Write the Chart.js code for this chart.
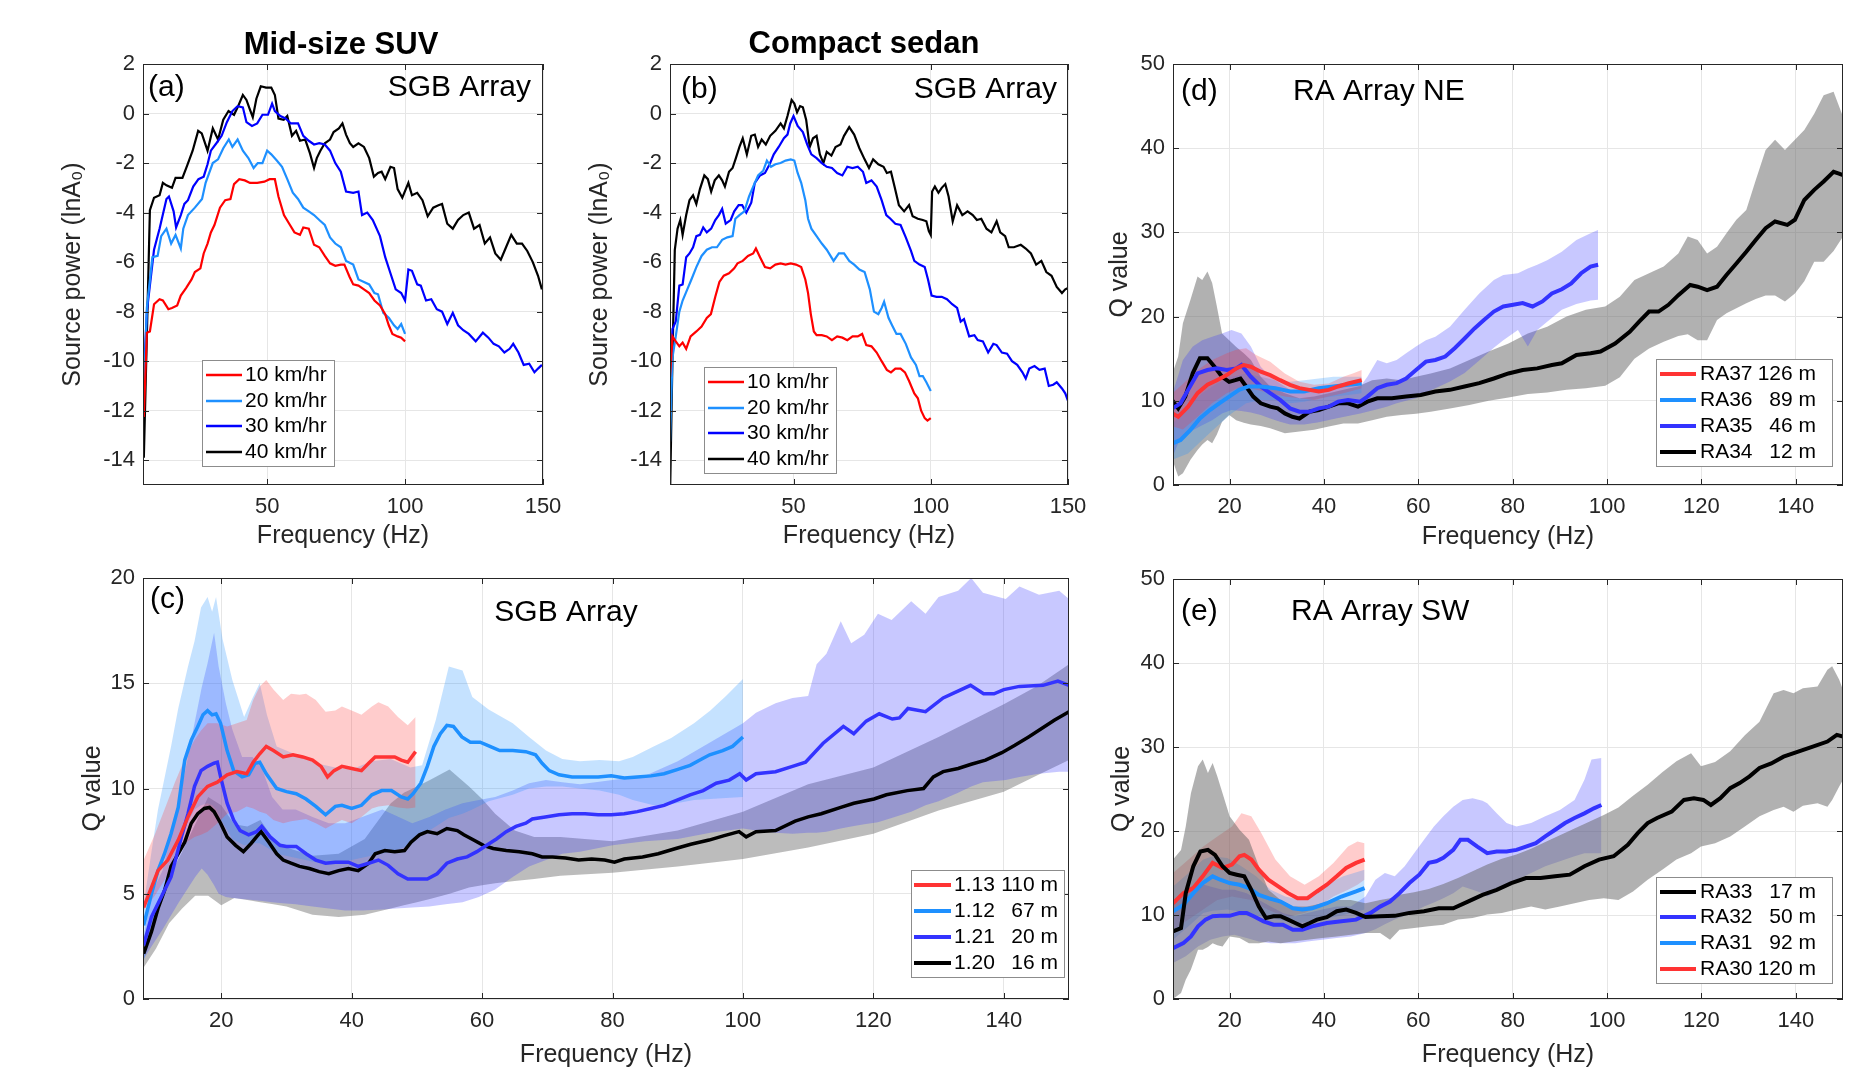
<!DOCTYPE html>
<html>
<head>
<meta charset="utf-8">
<script src="https://cdn.jsdelivr.net/npm/chart.js@4.4.1/dist/chart.umd.min.js"></script>
<style>
body{margin:0;background:#fff;width:1873px;height:1073px;position:relative;overflow:hidden}
canvas{position:absolute}
</style>
</head>
<body>
<canvas id="pa"></canvas><canvas id="pb"></canvas><canvas id="pc"></canvas><canvas id="pd"></canvas><canvas id="pe"></canvas>
<script>
// ---- data: [frequency Hz, value] ----
const a10 = [[5.3,-12.25],[6.4,-8.85],[7.5,-8.8],[9,-7.7],[11,-7.5],[12.2,-7.55],[14.2,-7.9],[15.5,-7.85],[17.4,-7.75],[18.7,-7.35],[20.6,-7.05],[22.6,-6.7],[23.8,-6.4],[25.8,-6.25],[27,-5.65],[28.4,-5.25],[29.6,-4.8],[30.9,-4.5],[32.9,-3.8],[34.8,-3.5],[36.7,-3.45],[38,-2.85],[39.9,-2.65],[41.9,-2.7],[43.8,-2.8],[46.4,-2.8],[49,-2.75],[50.9,-2.65],[52.8,-2.65],[54.1,-3.35],[56.1,-4.1],[58,-4.45],[59.9,-4.8],[61.9,-4.9],[63.1,-4.6],[65.1,-4.65],[67,-5.3],[68.9,-5.4],[70.9,-5.75],[72.8,-6.05],[74.7,-6.15],[76.7,-6.1],[78,-6.1],[79.9,-6.6],[81.2,-6.9],[83.1,-6.95],[85.1,-7.1],[87,-7.25],[88.9,-7.55],[90.9,-7.75],[92.8,-8.1],[94.1,-8.55],[95.4,-8.9],[97.3,-9.0],[98.6,-9.05],[100,-9.2]];
const a20 = [[5.3,-11.3],[6.4,-7.85],[8.4,-5.8],[10.3,-5.75],[11.6,-4.95],[13.5,-4.65],[15.2,-5.25],[16.8,-4.9],[18.7,-5.45],[19.6,-4.65],[21.3,-4.1],[23.8,-3.8],[26.4,-3.45],[27.7,-2.8],[29,-2.4],[30.3,-2.0],[32.2,-1.85],[34.1,-1.4],[36.1,-1.05],[37.4,-1.35],[39.3,-1.05],[41.2,-1.5],[43.2,-1.8],[45.1,-2.2],[46.6,-2.0],[48.3,-2.0],[50,-1.5],[51.5,-1.65],[53.5,-1.9],[55.4,-2.15],[57.3,-2.65],[59.3,-3.2],[61.2,-3.45],[63.1,-3.8],[65.1,-3.95],[67,-4.1],[68.9,-4.3],[70.9,-4.5],[72.8,-5.0],[74.7,-5.25],[76.7,-5.4],[78.6,-5.95],[81.2,-6.1],[83.1,-6.7],[85.1,-6.8],[87,-6.9],[88.9,-7.25],[90.2,-7.3],[92.1,-8.05],[94.1,-8.25],[96,-8.55],[97.3,-8.7],[98.6,-8.5],[100,-8.9]];
const a30 = [[5.3,-10.6],[6.4,-8.0],[9,-5.5],[11,-4.65],[13.5,-3.45],[14.4,-3.35],[16.1,-3.95],[17,-4.6],[18.7,-4.1],[20,-3.65],[21.3,-3.5],[23.2,-2.95],[25.1,-2.65],[27,-2.55],[28.4,-2.05],[29.6,-1.5],[31.6,-1.2],[33.5,-0.9],[35.4,-0.35],[37.4,0.1],[39.3,0.3],[41.2,0.25],[42.5,-0.35],[44.5,-0.5],[46.4,-0.4],[48.3,-0.05],[50.3,-0.05],[51.8,0.4],[52.8,0.1],[54.8,-0.1],[56.7,-0.2],[58.6,-0.4],[61.2,-0.4],[63.1,-0.9],[65.1,-1.1],[67,-1.25],[68.9,-1.2],[70.9,-1.25],[72.8,-1.5],[74.7,-2.0],[76.7,-2.35],[78.6,-3.15],[81.2,-3.2],[83.1,-3.15],[84.4,-4.1],[86.3,-4.0],[88.3,-4.3],[90.9,-4.95],[92.8,-5.8],[94.7,-6.45],[96.6,-7.1],[98.6,-7.25],[100,-7.55],[101.2,-6.3],[102.5,-6.35],[104.4,-6.9],[105.7,-6.95],[107.6,-7.55],[109.5,-7.5],[111.5,-7.9],[113.4,-8.0],[115.3,-8.5],[117.3,-8.05],[119.2,-8.55],[121.1,-8.75],[123.1,-8.9],[125.6,-9.2],[128.2,-8.85],[130.2,-9.05],[132.1,-9.3],[134,-9.4],[136,-9.65],[137.9,-9.5],[139.2,-9.3],[141.1,-9.65],[143,-10.15],[145,-10.1],[146.9,-10.45],[148.2,-10.3],[149.6,-10.15]];
const a40 = [[5.3,-13.9],[6.5,-8.5],[7.5,-3.9],[9,-3.4],[11,-3.3],[12.2,-2.8],[13.5,-2.9],[15.5,-3.0],[16.8,-2.6],[19.3,-2.6],[21,-2.1],[23,-1.5],[25,-0.7],[26.3,-0.8],[28.4,-1.5],[30.3,-0.6],[32.2,-1.05],[34.1,-0.25],[36,0.1],[38,-0.05],[39.3,0.25],[41.2,0.75],[42.5,0.55],[43.8,0.15],[44.8,-0.15],[46.1,0.6],[47.7,1.1],[49.6,1.05],[51.5,1.05],[52.8,0.75],[54.1,-0.2],[56,-0.25],[57.3,-0.1],[59,-0.9],[60.5,-0.7],[61.9,-1.1],[63.8,-1.05],[65.5,-1.6],[67,-2.2],[68,-1.8],[69.3,-1.5],[70.9,-1.2],[72.8,-1.05],[74.1,-0.75],[76,-0.6],[77.3,-0.4],[78.6,-0.85],[80,-1.2],[81.2,-1.35],[83.1,-1.2],[85.1,-1.35],[87,-1.8],[88.7,-2.55],[90.2,-2.4],[91.5,-2.35],[92.8,-2.65],[94.7,-2.15],[96,-2.2],[97.3,-3.05],[99,-3.4],[101.2,-2.8],[102.5,-3.3],[104.4,-3.2],[106.3,-3.5],[108.2,-4.15],[110.2,-3.8],[112.1,-3.7],[113.4,-3.65],[115.3,-4.45],[117.3,-4.65],[119.2,-4.3],[121.1,-4.1],[123.1,-4.0],[125,-4.65],[127,-4.5],[128.9,-5.25],[130.8,-5.0],[132.7,-5.65],[134.7,-5.9],[136.6,-5.4],[138.5,-4.9],[140.5,-5.25],[142.4,-5.25],[144.3,-5.55],[146.3,-6.0],[148.2,-6.55],[149.6,-7.1]];

const b10 = [[5,-10.65],[5.9,-9.0],[7.1,-9.2],[8.4,-9.4],[9.6,-9.25],[10.9,-9.5],[12.5,-9.0],[14.6,-8.8],[16.5,-8.6],[18.4,-8.25],[19.9,-8.1],[21.5,-7.4],[23,-6.8],[24.6,-6.55],[26.5,-6.45],[28.4,-6.25],[29.6,-6.05],[31.5,-5.95],[33.4,-5.75],[35.3,-5.65],[36.3,-5.45],[37.8,-5.8],[39.6,-6.2],[41.5,-6.25],[43.4,-6.1],[45.3,-6.05],[47.1,-6.1],[49,-6.05],[50.9,-6.1],[52.8,-6.2],[54.3,-6.7],[55.3,-7.25],[56.3,-8.1],[57.4,-8.8],[58.4,-8.95],[60.3,-8.95],[62.1,-9.0],[64,-9.15],[65.9,-9.0],[67.8,-9.05],[69.6,-9.15],[71.5,-9.0],[73.4,-9.0],[75,-8.9],[76.5,-9.35],[78.4,-9.4],[80.3,-9.65],[82.1,-10.0],[84,-10.35],[85.5,-10.45],[87.1,-10.3],[89,-10.3],[90.6,-10.45],[92.1,-10.8],[94,-11.3],[95.3,-11.5],[96.5,-12.0],[97.8,-12.3],[98.8,-12.4],[100,-12.3]];
const b20 = [[5,-13.25],[5.9,-9.85],[7.1,-9.0],[8.4,-8.0],[9.6,-7.55],[11.3,-7.1],[12.8,-6.7],[14.6,-6.2],[16.5,-5.75],[18.4,-5.5],[20.3,-5.4],[22.1,-5.4],[24,-5.1],[25.9,-5.0],[27.8,-4.95],[28.8,-4.25],[30.3,-4.1],[32.1,-3.95],[33.8,-3.35],[35.3,-2.95],[37.1,-2.5],[39,-2.3],[40.3,-1.9],[41.8,-2.15],[43.4,-2.05],[45.3,-2.0],[47.1,-1.9],[49,-1.85],[50.3,-1.9],[51.5,-2.4],[52.8,-2.8],[54.3,-3.5],[55.3,-4.25],[56.5,-4.65],[58.4,-4.95],[60.3,-5.25],[62.1,-5.5],[64.6,-5.95],[66.5,-5.65],[68.4,-5.65],[70.3,-5.95],[72.1,-6.1],[74,-6.3],[75.9,-6.4],[77.8,-7.1],[79.3,-8.0],[80.9,-8.1],[82.1,-7.85],[83,-7.6],[84.6,-8.25],[85.9,-8.55],[87.5,-8.9],[89,-8.9],[90.9,-9.3],[92.8,-9.85],[94.6,-10.15],[95.9,-10.6],[97.1,-10.6],[98.4,-10.85],[100,-11.2]];
const b30 = [[5,-11.6],[5.9,-8.7],[7.1,-8.4],[8.4,-6.95],[9.6,-6.9],[10.9,-5.8],[12.1,-5.65],[13.4,-5.4],[14.6,-4.95],[15.9,-4.9],[17.1,-4.6],[18.4,-4.8],[20,-4.65],[21.5,-4.3],[22.8,-4.1],[24,-3.85],[25.3,-4.45],[27.1,-4.3],[28.4,-3.95],[30,-3.7],[31.3,-3.7],[32.8,-4.0],[34.6,-3.6],[35.9,-2.8],[37.8,-2.5],[39.6,-2.4],[41.3,-2.05],[42.8,-1.65],[44.6,-1.35],[46.5,-1.0],[47.8,-0.85],[48.8,-0.4],[50,-0.1],[51.5,-0.5],[53.4,-0.75],[55,-1.25],[56.5,-1.65],[58.4,-1.8],[60.3,-2.0],[62.1,-2.15],[64,-2.2],[65.9,-2.4],[67.8,-2.5],[69.6,-2.15],[71.5,-2.2],[73.4,-2.15],[75.3,-2.35],[76.5,-2.8],[78.4,-2.7],[80.3,-2.95],[82.1,-3.5],[83.8,-4.1],[85.3,-4.25],[87.1,-4.45],[89,-4.5],[90.9,-5.0],[92.8,-5.55],[94,-5.95],[95.9,-6.1],[97.8,-6.2],[99,-6.7],[100.3,-7.35],[102.1,-7.4],[104,-7.4],[105.9,-7.5],[107.8,-7.7],[109.6,-7.85],[110.9,-8.4],[112.1,-8.3],[114,-9.0],[115.9,-8.95],[117.1,-9.15],[119,-9.2],[120.9,-9.65],[122.8,-9.3],[124,-9.35],[125.9,-9.65],[127.8,-9.7],[129.6,-10.0],[131.5,-10.15],[133.4,-10.45],[134.6,-10.7],[135.9,-10.3],[137.8,-10.2],[139.6,-10.35],[141.5,-10.3],[143,-11.0],[144.6,-10.95],[145.9,-10.85],[147.8,-11.1],[149,-11.3],[150,-11.6]];
const b40 = [[5,-15.5],[5.9,-9.85],[6.75,-5.5],[7.75,-4.65],[8.75,-4.3],[9.6,-4.9],[10.9,-4.1],[12.1,-3.5],[13.4,-3.3],[14.6,-3.65],[15.9,-3.05],[17.5,-2.5],[18.8,-2.65],[20,-3.15],[21.3,-2.7],[22.8,-2.5],[24,-2.7],[25,-2.95],[26.5,-2.35],[27.8,-2.2],[29,-1.8],[30.3,-1.35],[31.5,-1.0],[33,-1.65],[34.6,-0.9],[35.9,-0.85],[37.1,-1.35],[38.4,-1.05],[39.9,-1.25],[41.5,-0.9],[43.4,-0.7],[45.3,-0.4],[46.5,-0.6],[47.8,-0.1],[49.3,0.55],[50.3,0.4],[51.3,0.05],[52.4,0.3],[53.4,0.25],[54.6,-0.25],[55.9,-1.35],[57.1,-1.0],[58.4,-0.9],[59.6,-1.65],[60.9,-2.0],[62.1,-1.55],[63.8,-1.7],[65.3,-1.35],[67.1,-1.25],[68.4,-0.9],[70.3,-0.55],[72.1,-0.85],[74,-1.4],[75.9,-1.85],[77.5,-2.2],[79,-1.85],[80.9,-2.05],[82.8,-2.15],[84,-2.4],[85.5,-2.35],[86.8,-2.95],[88.4,-3.7],[90.3,-3.95],[92.1,-3.7],[93.4,-4.15],[95.3,-4.25],[97.1,-4.3],[98.4,-4.35],[99.3,-4.75],[100,-4.9],[100.5,-3.15],[101.5,-2.95],[102.8,-3.2],[104,-3.0],[105.3,-2.85],[106.5,-3.35],[108,-4.35],[109.6,-3.7],[111.5,-4.1],[113.4,-3.95],[115.3,-4.1],[116.8,-4.3],[118.4,-4.25],[120.3,-4.65],[122.1,-4.8],[124,-4.35],[125.3,-4.8],[127.1,-4.95],[128.4,-5.4],[130.3,-5.4],[132.8,-5.3],[134.6,-5.45],[136.5,-5.65],[138.4,-6.1],[140.3,-5.95],[142.1,-6.4],[144,-6.55],[145.9,-7.0],[147.8,-7.25],[149,-7.1],[150,-7.05]];

const c113 = [[8.1,4.35],[9.3,5.3],[10.3,6.1],[11.8,6.6],[13.4,7.55],[14.9,8.65],[16.4,9.6],[17.9,10.1],[19.4,10.3],[20.9,10.65],[22.4,10.8],[23.9,10.7],[24.9,11.25],[25.9,11.65],[26.9,12.0],[28,11.8],[29.5,11.5],[31,11.6],[32.5,11.5],[34,11.35],[35.3,11.05],[36.3,10.55],[37.3,10.85],[38.5,11.05],[40,10.95],[41.5,10.85],[42.6,11.2],[43.6,11.5],[45.1,11.5],[46.6,11.5],[47.6,11.35],[48.6,11.25],[49.8,11.75]];
const c112 = [[8.1,3.5],[9.3,5.0],[10.3,6.1],[11.3,6.9],[12.3,7.85],[13.4,9.1],[14.4,11.35],[15.4,12.3],[16.4,12.95],[17.2,13.5],[17.9,13.7],[18.6,13.5],[19.2,13.55],[19.9,13.1],[20.9,11.8],[21.9,10.85],[23.2,10.55],[24.2,10.65],[25.2,11.2],[25.9,11.25],[26.9,10.7],[28.5,10.0],[30,9.85],[31.5,9.75],[33,9.5],[34.5,9.15],[36,8.75],[37.5,9.15],[38.5,9.2],[40,9.05],[41.5,9.2],[43.1,9.7],[44.6,9.9],[46.1,9.9],[47.6,9.6],[48.6,9.5],[49.4,9.75],[50.6,10.25],[51.6,11.05],[52.6,12.0],[53.6,12.6],[54.6,13.0],[55.6,12.95],[56.9,12.45],[58.2,12.2],[59.7,12.2],[61.2,12.0],[62.7,11.8],[64.7,11.8],[66.7,11.75],[68.2,11.6],[69.2,11.2],[70.3,10.85],[71.8,10.65],[73.8,10.55],[75.8,10.55],[77.8,10.55],[79.8,10.6],[81.8,10.5],[83.8,10.55],[85.9,10.6],[87.9,10.7],[89.9,10.9],[91.9,11.1],[93.4,11.35],[94.9,11.6],[96.9,11.8],[98.4,12.0],[100,12.45]];
const c121 = [[8.1,2.55],[9.3,3.9],[10.8,4.85],[12.3,5.8],[13.9,7.7],[14.9,8.8],[15.9,10.1],[16.9,10.85],[17.9,11.05],[18.9,11.2],[19.4,11.25],[19.9,10.55],[20.9,9.3],[21.9,8.5],[22.9,8.0],[24.2,7.8],[25.4,7.95],[26.2,8.2],[27.5,7.7],[29,7.3],[30,7.25],[31.5,7.25],[33,6.9],[34.5,6.6],[36,6.45],[37.5,6.5],[39.5,6.5],[41,6.3],[42.6,6.45],[44.1,6.6],[45.6,6.35],[47.1,5.95],[48.6,5.7],[50.1,5.7],[51.6,5.7],[53.1,5.95],[54.6,6.45],[56.2,6.65],[57.7,6.75],[59.2,7.0],[60.7,7.3],[62.2,7.6],[63.7,7.95],[65.2,8.2],[66.7,8.35],[67.7,8.55],[69.7,8.65],[71.8,8.75],[73.8,8.8],[75.8,8.8],[77.8,8.75],[79.8,8.75],[81.8,8.8],[83.8,8.9],[85.9,9.05],[87.9,9.2],[89.9,9.45],[91.9,9.7],[93.9,9.9],[95.9,10.25],[97.9,10.4],[99.5,10.7],[100.5,10.4],[102,10.7],[105,10.8],[107.6,11.05],[109.6,11.25],[112.3,12.15],[115.4,12.95],[117,12.6],[118.9,13.2],[120.9,13.55],[122.9,13.3],[124,13.35],[125.3,13.8],[128,13.65],[130.7,14.3],[132.8,14.6],[134.9,14.9],[136.9,14.5],[138.5,14.5],[140,14.7],[142.4,14.85],[146,14.9],[148.3,15.1],[150,14.9]];
const c120 = [[8.1,2.15],[9.3,3.2],[10.3,4.3],[11.3,5.15],[12.3,6.3],[13.4,6.9],[14.4,7.45],[15.4,8.35],[16.4,8.8],[17.4,9.05],[18.2,9.1],[18.9,8.9],[19.9,8.35],[20.9,7.7],[22.2,7.3],[23.4,7.0],[24.6,7.4],[25.4,7.7],[26.1,7.95],[27.3,7.45],[28.5,6.9],[29.5,6.6],[30.7,6.45],[32,6.3],[33.5,6.2],[35,6.05],[36.5,5.95],[38,6.1],[39.5,6.2],[41,6.1],[42.6,6.45],[43.6,6.9],[45.1,7.05],[46.6,7.0],[48.1,7.05],[49.1,7.45],[50.4,7.8],[51.6,7.95],[53.1,7.85],[54.6,8.1],[56.2,8.0],[57.2,7.8],[58.7,7.55],[60.2,7.3],[61.7,7.15],[63.7,7.05],[65.7,7.0],[67.7,6.9],[69.2,6.75],[70.8,6.75],[72.8,6.7],[74.8,6.6],[76.8,6.65],[78.8,6.6],[80.3,6.5],[81.8,6.65],[84.6,6.75],[87,6.9],[89.7,7.15],[92,7.35],[94.8,7.55],[97,7.75],[99.4,7.95],[100.5,7.7],[102,7.95],[105,8.0],[108,8.45],[110,8.65],[112,8.8],[115,9.1],[117,9.3],[120.1,9.5],[122,9.7],[125.2,9.9],[127.7,10.0],[129.2,10.55],[130.7,10.8],[133,10.95],[135,11.15],[137.2,11.35],[139.7,11.7],[141.7,12.05],[143.8,12.45],[145.8,12.85],[147.8,13.25],[150,13.65]];
// bands: [frequency, low, high]
const c113Band = [[8.1,4.2,6.6],[9.8,4.9,7.8],[11.3,5.65,9.0],[12.9,6.6,10.3],[14.4,7.4,11.4],[15.9,7.7,12.3],[16.9,7.8,12.75],[17.9,7.95,13.1],[19.4,8.35,13.1],[20.9,8.8,12.95],[22.4,8.9,13.1],[23.9,9.15,13.25],[24.9,9.05,14.2],[25.9,8.9,14.85],[26.9,8.8,15.15],[28,8.5,14.7],[29.5,8.35,14.2],[30.7,8.45,14.5],[32,8.5,14.45],[33,8.55,14.5],[34.5,8.35,14.2],[36,8.1,13.65],[37.5,8.35,13.7],[38.5,8.5,13.9],[40,8.35,13.7],[41.5,8.65,13.5],[43.1,9.05,13.9],[44.1,9.15,14.1],[45.6,9.2,13.9],[47.1,9.1,13.4],[48.6,9.05,13.0],[49.8,9.1,13.4]];
const c112Band = [[8.1,1.8,4.5],[9.3,3.0,7.0],[10.3,4.4,9.0],[11.3,5.3,10.5],[12.3,6.2,12.0],[13.4,7.2,13.8],[14.9,8.4,15.8],[15.9,9.0,17.0],[16.9,9.2,18.6],[17.9,9.3,19.1],[18.6,9.2,18.4],[19.2,9.0,19.1],[20.2,8.4,17.1],[21.7,7.6,15.15],[23.5,7.3,13.4],[24.8,7.4,14.3],[25.9,7.4,15.0],[27,7.2,13.5],[28.5,6.9,12.0],[31.5,6.7,11.6],[34.5,6.5,11.2],[37.5,6.5,11.0],[40,6.6,10.9],[43,6.8,11.3],[46,7.0,11.4],[49,7.3,11.0],[50.8,7.8,11.1],[52.9,8.2,13.25],[54.9,8.6,15.8],[57,8.8,15.6],[58.5,9.0,14.35],[61,9.4,13.75],[64.7,9.7,13.1],[67.2,10.0,12.45],[69.8,10.1,11.8],[72.3,10.1,11.4],[75,10.0,11.3],[78,9.9,11.35],[81,9.7,11.3],[83.1,9.45,11.5],[86.3,9.2,12.0],[89,9.25,12.4],[92.5,9.45,13.1],[95,9.5,13.7],[97.4,9.55,14.4],[100,9.6,15.2]];
const c121Band = [[8.1,1.9,2.95],[9.3,2.5,5.0],[11,3.3,6.1],[13.5,4.6,9.3],[16,5.8,13.25],[17,6.2,14.8],[17.9,5.9,15.95],[18.9,5.4,17.4],[19.6,5.0,15.8],[20.7,4.85,14.05],[21.7,4.8,12.8],[23.2,4.75,11.5],[24.8,4.7,11.5],[26.3,4.65,10.9],[27.8,4.6,9.6],[29.4,4.55,9.0],[31.4,4.5,9.0],[34,4.4,8.65],[36.5,4.3,8.35],[39,4.2,8.35],[41.6,4.2,8.65],[44.7,4.25,9.0],[46.8,4.3,8.7],[49.3,4.35,8.35],[51.9,4.4,8.65],[54.4,4.5,9.0],[57,4.6,9.3],[59.5,4.85,9.45],[62,5.2,9.6],[64.7,5.8,9.9],[67.2,6.3,10.25],[69.8,6.6,10.4],[72.3,6.9,10.3],[75,7.0,10.2],[80,7.3,10.4],[85,7.5,10.6],[90,7.6,11.3],[95,7.9,12.2],[100,8.1,13.1],[102,8.0,13.6],[105,7.9,14.05],[107.6,7.85,14.3],[110,7.9,14.4],[111.3,7.9,15.9],[112.8,7.95,16.4],[115,8.1,17.95],[116.6,8.2,16.9],[118.6,8.3,17.3],[120.7,8.4,18.3],[122.8,8.6,18.0],[125.8,8.9,18.9],[128,9.2,18.3],[130,9.4,19.1],[133,9.8,19.4],[135,10.1,20.0],[136.8,10.3,19.3],[140.3,10.4,19.0],[142.4,10.55,19.6],[145.4,10.7,19.2],[148.5,10.8,19.4],[150,10.8,19.0]];
const c120Band = [[8.1,1.5,2.9],[10,2.4,4.2],[12,3.6,5.8],[14,4.3,7.0],[16,4.9,8.3],[18,4.9,9.6],[20,4.45,9.2],[22,4.8,8.3],[24,4.7,8.2],[26,4.6,8.5],[28,4.5,7.6],[30,4.4,7.2],[34,4.0,6.8],[38,3.9,6.9],[42,4.0,7.6],[46,4.3,9.3],[48,4.45,9.8],[50,4.6,10.1],[52,4.75,10.4],[55,5.0,10.9],[58,5.3,10.1],[60,5.4,9.5],[62,5.5,8.8],[65,5.6,8.0],[68,5.7,7.7],[72,5.85,7.7],[80,6.0,7.5],[90,6.3,8.0],[100,6.65,8.9],[110,7.2,10.2],[120,7.85,11.0],[130,8.95,12.45],[140,9.85,14.0],[145,10.6,14.85],[150,11.35,15.9]];

const d37 = [[7.9,8.5],[9.1,8.1],[11.2,9.3],[13.2,10.9],[15.3,11.9],[17.3,12.45],[19.4,13.05],[21.4,13.85],[23,14.25],[24.5,14.05],[26.6,13.45],[28.6,13.05],[30.7,12.45],[32.8,11.9],[34.8,11.5],[36.9,11.3],[38.9,11.1],[41,11.3],[43,11.7],[45.1,12.05],[48,12.45]];
const d36 = [[7.9,4.95],[9.6,5.35],[11.7,6.55],[13.7,7.9],[15.8,8.9],[17.8,9.7],[19.9,10.5],[22,11.3],[24,11.7],[26.6,11.7],[29.7,11.5],[32.8,11.1],[35.8,11.1],[38.9,11.5],[42,11.7],[45.1,11.9],[48,12.05]];
const d35 = [[7.9,9.1],[9.6,9.7],[11.2,11.3],[13.2,13.25],[15.3,13.65],[17.3,13.85],[19.4,13.65],[21.4,13.85],[22.5,14.25],[24.5,12.85],[26.6,11.7],[28.6,10.9],[30.7,10.1],[32.8,9.1],[34.8,8.7],[36.9,8.7],[38.9,9.1],[41,9.3],[43,9.9],[45.1,10.1],[47.7,9.9],[49.2,10.5],[51.3,11.5],[53.3,11.9],[55.4,12.1],[57.4,12.65],[59.5,13.65],[61.6,14.65],[63.6,14.85],[65.7,15.25],[67.7,16.25],[69.8,17.4],[71.9,18.6],[73.9,19.6],[76,20.6],[78,21.2],[80.1,21.4],[82.1,21.6],[84.2,21.2],[86.3,21.8],[88.3,22.75],[90.4,23.25],[92.4,23.95],[94.5,25.15],[96.5,25.95],[98.1,26.15]];
const d34 = [[7.9,10.0],[9.1,9.1],[10.6,10.5],[12.2,13.3],[13.7,15.05],[15.3,15.05],[16.8,14.05],[18.4,12.85],[19.9,12.25],[21.2,12.45],[22.3,12.65],[23.5,11.7],[25,10.5],[26.6,9.7],[28.6,9.3],[30.2,9.1],[31.7,8.5],[33.3,8.1],[34.8,7.9],[36.9,8.7],[38.9,8.9],[41,9.3],[43,9.7],[45.1,9.7],[47.2,9.3],[49.2,9.9],[51.3,10.3],[54.4,10.3],[57.4,10.5],[60.5,10.7],[63.6,11.1],[66.7,11.3],[69.8,11.7],[72.9,12.1],[76,12.65],[79.1,13.25],[82.1,13.65],[85.2,13.85],[88.3,14.25],[90.4,14.45],[93.5,15.45],[96.5,15.65],[98.6,15.85],[101.7,16.8],[104.8,18.2],[106.8,19.4],[108.9,20.6],[110.9,20.6],[113,21.4],[115.1,22.55],[117.6,23.75],[119.2,23.55],[121.2,23.15],[123.3,23.55],[125.3,24.95],[127.4,26.3],[129.5,27.7],[131.5,29.1],[133.6,30.5],[135.6,31.3],[138.2,30.9],[139.8,31.5],[141.8,33.85],[143.9,35.05],[145.9,36.05],[148,37.2],[149,37.0],[150,36.8]];
const d37Band = [[7.9,6.95,10.9],[10.1,6.6,12.0],[13.2,8.1,13.65],[16.3,9.7,14.85],[19.4,10.9,15.65],[21.4,11.4,16.05],[23.5,11.6,16.25],[25.6,11.3,15.45],[28.6,10.9,14.65],[31.7,10.5,13.25],[34.8,10.3,12.25],[37.9,10.1,11.9],[41,10.5,12.05],[44.1,10.9,12.85],[46.1,11.2,13.25],[48,11.5,13.65]];
const d36Band = [[7.9,3.0,7.3],[11.2,3.75,9.3],[14.2,5.35,10.9],[17.3,6.95,12.05],[20.4,8.5,12.85],[23.5,9.7,13.25],[26.6,10.1,12.85],[29.7,10.1,12.45],[32.8,9.7,12.25],[35.8,9.9,12.45],[38.9,10.3,12.65],[42,10.5,12.85],[45.1,10.7,12.85],[48,10.9,12.85]];
const d35Band = [[7.9,3.35,10.9],[9.1,4.95,13.0],[10.1,5.6,14.85],[12.2,6.5,16.45],[14.2,7.1,17.2],[16.3,7.7,17.6],[18.4,8.5,18.0],[20.4,8.9,18.4],[22.5,8.8,18.0],[24.5,8.6,16.45],[26.6,8.3,14.05],[28.6,7.9,12.85],[30.7,7.5,12.05],[32.8,7.2,11.3],[35.8,7.2,10.9],[38.9,7.45,11.3],[42,7.85,11.7],[45.1,8.2,12.05],[47.7,8.5,11.7],[49.2,8.7,12.85],[51.3,9.0,14.85],[53.3,9.3,14.45],[55.4,9.7,14.85],[57.4,10.0,15.65],[59.5,10.3,16.45],[61.6,11.0,17.2],[63.6,11.5,17.6],[66.7,12.3,18.8],[69.8,13.3,20.8],[72.9,14.8,22.75],[76,16.3,24.35],[78,17.2,24.95],[81.1,18.4,25.15],[83.2,16.45,25.7],[85.2,18.4,26.15],[87.3,19.4,26.7],[90.4,20.8,27.7],[93.5,21.5,29.1],[96.5,21.9,29.9],[98.1,22.0,30.3]];
const d34Band = [[7.9,3.0,13.3],[9.1,1.0,15.25],[10.1,1.4,19.2],[11.7,3.0,22.0],[13.2,4.15,24.75],[14.2,4.8,24.35],[15.3,5.35,25.35],[16.3,4.95,24.0],[17.3,6.0,21.2],[18.4,7.5,18.0],[19.9,8.3,17.2],[21.4,7.7,16.4],[23,7.4,15.65],[24.5,7.2,14.85],[26.6,7.0,12.85],[28.6,6.75,11.7],[31.7,6.15,10.9],[34.8,6.35,10.3],[37.9,6.55,10.5],[41,6.95,10.9],[44.1,7.3,11.3],[47.2,7.3,11.7],[50.2,7.7,12.45],[53.3,8.1,12.65],[56.4,8.3,12.45],[59.5,8.45,12.85],[62.6,8.7,13.25],[66.7,9.1,13.85],[70.8,9.5,14.85],[74.9,10.0,15.85],[79.1,10.4,16.8],[83.2,10.8,18.0],[87.3,11.0,18.8],[91.4,11.3,20.0],[95.5,11.5,20.8],[99.6,11.8,21.2],[102.7,12.8,22.35],[105.8,15.0,24.35],[108.9,16.2,25.15],[112,17.0,25.95],[115.1,17.7,27.5],[117.1,17.9,29.5],[119.2,17.2,29.1],[121.2,17.2,27.5],[123.3,19.6,28.3],[125.3,20.4,29.9],[127.4,21.0,31.5],[129.5,21.6,32.65],[131.5,22.1,36.2],[133.6,22.5,39.8],[135.6,22.5,41.0],[137.7,21.8,39.8],[139.8,22.75,41.0],[141.8,24.2,42.15],[143.9,26.5,44.1],[145.9,26.5,46.3],[148,27.8,46.7],[150,29.5,43.75]];

const e33 = [[8,8.05],[9.7,8.45],[10.7,12.6],[12.3,15.8],[13.8,17.55],[15.4,17.75],[16.9,17.15],[18.5,15.8],[20,15.0],[21.5,14.8],[23.1,14.6],[24.6,13.0],[26.2,11.0],[27.7,9.65],[29.3,9.85],[30.8,9.85],[32.4,9.45],[33.9,9.05],[35.4,8.65],[37,9.05],[38.5,9.45],[40.6,9.75],[42.7,10.45],[44.7,10.65],[46.8,10.25],[48.8,9.75],[51.9,9.85],[55,9.9],[58.1,10.25],[61.2,10.45],[64.3,10.8],[67.4,10.8],[70.5,11.6],[73.6,12.4],[76.6,13.0],[79.7,13.8],[82.8,14.4],[85.9,14.4],[89,14.6],[92.1,14.8],[95.2,15.8],[98.3,16.6],[101.4,17.0],[104.4,18.35],[106.5,19.75],[108.6,20.95],[110.6,21.55],[113.7,22.3],[116.3,23.7],[118.4,23.9],[120.4,23.7],[122,23.1],[124,23.9],[126.1,25.1],[128.1,25.7],[130.2,26.5],[132.3,27.5],[134.8,28.05],[137.4,28.85],[140.5,29.45],[143.6,30.05],[146.7,30.65],[148.7,31.45],[150,31.25]];
const e32 = [[8,6.05],[10.2,6.65],[11.8,7.45],[13.3,8.65],[14.9,9.45],[16.4,9.85],[18,9.9],[20,9.9],[22.1,10.25],[23.6,10.25],[25.1,9.85],[27.2,9.25],[29.3,8.85],[31.3,8.85],[33.4,8.25],[35.4,8.25],[37.5,8.65],[40.6,9.05],[43.7,9.25],[46.8,9.45],[48.3,9.85],[49.9,10.25],[51.9,11.0],[54,11.6],[56,12.6],[58.1,13.8],[60.2,14.8],[62.2,16.2],[63.8,16.4],[65.3,16.8],[67.4,17.75],[68.9,18.95],[70.5,18.95],[72.5,18.15],[74.6,17.35],[76.6,17.55],[78.7,17.55],[80.8,17.75],[82.8,18.15],[84.9,18.55],[86.9,19.35],[89,20.15],[91.1,20.95],[93.1,21.55],[95.2,22.1],[97.2,22.7],[98.8,23.1]];
const e31 = [[8,10.45],[10.2,11.2],[12.3,12.6],[14.3,13.8],[16.4,14.6],[18,14.2],[20,13.8],[22.1,13.6],[24.1,13.2],[26.2,12.4],[28.2,12.0],[30.8,11.6],[33.4,10.8],[35.4,10.65],[37.5,10.8],[40.6,11.4],[43.7,12.2],[46.8,12.8],[48.6,13.2]];
const e30 = [[8,11.4],[10.2,12.6],[12.3,13.2],[14.3,14.6],[16.4,16.2],[18.5,15.6],[20.5,16.0],[22.1,17.0],[23.1,17.15],[24.6,16.6],[26.2,15.4],[28.2,14.2],[30.3,13.4],[32.4,12.6],[34.4,12.0],[36.5,12.0],[38.5,12.8],[40.6,13.6],[42.7,14.6],[44.7,15.6],[46.8,16.2],[48.6,16.6]];
const e33Band = [[8,0,16.6],[9.7,0.7,17.75],[10.7,2.3,20.55],[11.8,3.5,24.5],[13.3,5.85,27.7],[14.3,5.85,28.5],[15.4,6.2,26.9],[16.4,6.65,28.1],[17.4,6.4,26.5],[18.5,6.25,24.5],[20,7.45,21.75],[22.1,7.25,20.15],[24.1,6.65,18.95],[26.2,6.65,15.8],[28.2,6.85,13.0],[30.8,6.65,11.8],[33.4,6.85,11.0],[36.5,7.05,11.0],[39.6,7.25,11.4],[42.7,7.45,11.8],[45.7,7.65,11.8],[48.8,7.85,11.4],[51.9,7.85,11.8],[54,7.05,12.0],[56,8.25,12.4],[59.1,8.45,12.7],[62.2,8.65,13.1],[65.3,8.85,13.7],[68.4,9.45,14.4],[71.5,9.65,15.2],[74.6,10.05,16.0],[77.7,10.25,16.7],[80.8,10.65,17.2],[83.9,11.0,17.9],[86.9,10.65,18.7],[90,11.0,19.5],[93.1,11.4,20.3],[96.2,11.8,21.1],[99.3,12.0,21.9],[102.4,11.8,22.8],[105.5,12.8,24.2],[108.6,14.2,25.5],[111.7,15.4,27.0],[114.7,16.6,28.3],[117.8,17.35,29.25],[119.9,18.15,27.7],[122.9,18.55,28.2],[126.1,19.35,29.5],[129.2,20.55,31.4],[132.3,21.75,33.0],[135.3,22.5,36.4],[137.4,22.9,36.8],[139.5,22.3,36.4],[141.5,23.0,37.0],[144.6,23.3,37.2],[146.7,22.9,39.2],[147.7,23.7,39.6],[149.2,25.3,38.0],[150,26.1,36.8]];
const e32Band = [[8,4.3,11.4],[10.7,5.1,13.0],[13.3,6.25,13.8],[15.9,7.05,13.4],[18.5,7.45,13.0],[21,7.65,13.0],[23.6,7.25,12.6],[26.2,6.85,11.8],[28.7,6.65,11.0],[31.3,6.65,10.25],[33.9,6.65,9.85],[36.5,6.85,10.25],[39.6,7.05,10.65],[42.7,7.25,11.0],[45.7,7.45,11.0],[48.8,7.85,12.2],[50.9,8.3,14.2],[52.9,8.9,15.0],[55,9.45,14.6],[57.1,9.9,15.8],[59.1,10.4,17.35],[61.2,11.0,18.95],[63.3,11.5,20.55],[65.3,12.0,21.75],[67.4,12.6,22.9],[69.4,13.4,23.7],[71.5,13.0,23.9],[73.6,12.6,23.6],[74.6,12.2,23.3],[76.6,12.8,22.1],[78.7,13.4,20.95],[80.8,14.2,20.55],[83.9,15.0,20.95],[86.9,15.8,21.75],[90,16.4,22.5],[93.1,17.0,23.7],[95.2,17.35,26.1],[96.7,17.35,28.5],[98.8,17.35,28.7]];
const e31Band = [[8,7.05,13.4],[11.3,8.65,15.0],[14.4,10.25,16.6],[16.4,10.5,17.0],[19.5,10.65,16.8],[22.5,10.4,15.8],[25.6,10.0,14.6],[28.7,9.6,13.0],[31.8,9.3,12.2],[34.9,9.05,11.8],[38,9.3,12.6],[41.1,9.65,13.8],[44.1,10.0,14.6],[48.6,10.65,15.4]];
const e30Band = [[8,8.25,15.0],[11.3,9.45,16.6],[14.4,10.65,18.15],[17.4,11.8,19.35],[20.5,12.2,20.55],[22.5,12.0,22.1],[24.6,11.8,21.75],[26.7,11.0,19.75],[29.7,10.25,16.6],[32.8,9.85,14.6],[35.9,10.25,13.6],[38.9,11.0,14.6],[42,12.2,16.2],[45.1,13.0,18.15],[47.1,13.6,18.75],[48.6,14.2,18.55]];

// ticks and legend text
const powTicks = [-14,-12,-10,-8,-6,-4,-2,0,2];
const freqTicksAB = [50,100,150];
const freqTicksCDE = [20,40,60,80,100,120,140];
const qTicksC = [0,5,10,15,20];
const qTicksDE = [0,10,20,30,40,50];
const speeds = ['10 km/hr','20 km/hr','30 km/hr','40 km/hr'];
const cNames = ['1.13','1.12','1.21','1.20'], cDist = ['110 m','67 m','20 m','16 m'];
const dNames = ['RA37','RA36','RA35','RA34'], dDist = ['126 m','89 m','46 m','12 m'];
const eNames = ['RA33','RA32','RA31','RA30'], eDist = ['17 m','50 m','92 m','120 m'];

const FONT = '"Liberation Sans", Arial, Helvetica, sans-serif';
const INK = '#262626', GRID = '#e6e6e6';
const RED = '#ff3333', LBLUE = '#1e90ff', BLUE = '#3333ff', BLACK = '#000000';
const RED_F = 'rgba(255,51,51,0.25)', LBLUE_F = 'rgba(30,144,255,0.26)', BLUE_F = 'rgba(51,51,255,0.27)';
const GRAY_C = 'rgba(100,100,100,0.43)', GRAY_DE = 'rgba(100,100,100,0.5)';
const PADL = 100, PADR = 30, PADT = 60, PADB = 80;

function line(label, arr, color, w) {
  return {label, data: arr.map(p => ({x: p[0], y: p[1]})), borderColor: color, borderWidth: w,
    pointRadius: 0, fill: false, tension: 0, order: 0};
}
function band(arr, color) {
  return [
    {data: arr.map(p => ({x: p[0], y: p[1]})), borderColor: 'rgba(0,0,0,0)', borderWidth: 0, pointRadius: 0, fill: false, order: 1},
    {data: arr.map(p => ({x: p[0], y: p[2]})), borderColor: 'rgba(0,0,0,0)', borderWidth: 0, pointRadius: 0, fill: '-1', backgroundColor: color, order: 1}
  ];
}

function txt(ctx, s, x, y, size, align, bold) {
  ctx.font = (bold ? 'bold ' : '') + size + 'px ' + FONT;
  ctx.textAlign = align; ctx.textBaseline = 'middle'; ctx.fillStyle = '#000';
  ctx.fillText(s, x, y);
}

function deco(d) {
  return {
    id: 'deco',
    afterDraw(chart) {
      const ctx = chart.ctx, a = chart.chartArea;
      const L = Math.round(a.left), T = Math.round(a.top), R = Math.round(a.right), B = Math.round(a.bottom);
      ctx.save();
      ctx.strokeStyle = INK; ctx.lineWidth = 1;
      ctx.strokeRect(L + 0.5, T + 0.5, R - L - 1, B - T - 1);
      const xs = chart.scales.x, ys = chart.scales.y, tl = 6;
      ctx.beginPath();
      xs.ticks.forEach(t => {
        const p = Math.round(xs.getPixelForValue(t.value)) + 0.5;
        ctx.moveTo(p, B); ctx.lineTo(p, B - tl); ctx.moveTo(p, T); ctx.lineTo(p, T + tl);
      });
      ys.ticks.forEach(t => {
        const p = Math.round(ys.getPixelForValue(t.value)) + 0.5;
        ctx.moveTo(L, p); ctx.lineTo(L + tl, p); ctx.moveTo(R, p); ctx.lineTo(R - tl, p);
      });
      ctx.stroke();
      d.texts.forEach(t => {
        const x = t[1] === 'l' ? L + t[2] : t[1] === 'r' ? R + t[2] : (L + R) / 2 + t[2];
        txt(ctx, t[0], x, T + t[3], t[4], t[5], t[6]);
      });
      const g = d.legend, bx = L + g.x, by = T + g.y;
      ctx.fillStyle = '#fff'; ctx.fillRect(bx, by, g.w, g.h);
      ctx.strokeStyle = '#8c8c8c'; ctx.strokeRect(bx + 0.5, by + 0.5, g.w, g.h);
      g.names.forEach((n, i) => {
        const y = by + g.rows[i];
        ctx.strokeStyle = g.colors[i]; ctx.lineWidth = g.lw;
        ctx.beginPath(); ctx.moveTo(bx + g.l0, y); ctx.lineTo(bx + g.l1, y); ctx.stroke();
        txt(ctx, n, bx + g.tx, y, 21, 'left');
        if (g.dist) txt(ctx, g.dist[i], bx + g.dx, y, 21, 'right');
      });
      ctx.restore();
    }
  };
}

function panel(id, box, cfg) {
  const cv = document.getElementById(id);
  cv.width = box[2] + PADL + PADR; cv.height = box[3] + PADT + PADB;
  cv.style.left = (box[0] - PADL) + 'px'; cv.style.top = (box[1] - PADT) + 'px';
  return new Chart(cv, {
    type: 'line',
    data: {datasets: cfg.datasets},
    options: {
      responsive: false, animation: false, events: [],
      layout: {padding: {top: PADT, right: PADR, left: 0, bottom: 0}},
      plugins: {legend: {display: false}, tooltip: {enabled: false}},
      scales: {
        x: {type: 'linear', min: cfg.x[0], max: cfg.x[1],
          afterBuildTicks: s => { s.ticks = cfg.xTicks.map(v => ({value: v})); },
          afterFit: s => { s.height = PADB; },
          grid: {color: GRID, drawTicks: false}, border: {display: false},
          ticks: {font: {size: 22, family: FONT}, color: INK, padding: 9, autoSkip: false, maxRotation: 0},
          title: {display: true, text: 'Frequency (Hz)', font: {size: 25, family: FONT}, color: INK, padding: {top: 0, bottom: cfg.xtPad}}},
        y: {type: 'linear', min: cfg.y[0], max: cfg.y[1],
          afterBuildTicks: s => { s.ticks = cfg.yTicks.map(v => ({value: v})); },
          afterFit: s => { s.width = PADL; },
          grid: {color: GRID, drawTicks: false}, border: {display: false},
          ticks: {font: {size: 22, family: FONT}, color: INK, padding: 8, autoSkip: false},
          title: {display: true, text: cfg.yTitle, font: {size: 25, family: FONT}, color: INK, padding: {top: cfg.ytPad, bottom: 0}}}
      }
    },
    plugins: [deco(cfg.deco)]
  });
}

const abColors = ['#ff0000', '#1e90ff', '#0000ff', '#000000'];
const abLegend = (x, y) => ({x, y, w: 132, h: 106, rows: [15, 41, 66, 92], l0: 4, l1: 40, tx: 43, lw: 2.5, names: speeds, colors: abColors});

panel('pa', [143, 64, 400, 421], {
  x: [5, 150], y: [-15, 2], xTicks: freqTicksAB, yTicks: powTicks, yTitle: 'Source power (lnA₀)', xtPad: 14, ytPad: 15,
  datasets: [line('10', a10, abColors[0], 2.2), line('20', a20, abColors[1], 2.2), line('30', a30, abColors[2], 2.2), line('40', a40, abColors[3], 2.2)],
  deco: {texts: [['(a)', 'l', 5, 24, 30, 'left'], ['SGB Array', 'r', -12, 24, 30, 'right'], ['Mid-size SUV', 'c', -2, -19, 31, 'center', true]],
    legend: abLegend(59, 296)}
});

panel('pb', [670, 64, 398, 421], {
  x: [5, 150], y: [-15, 2], xTicks: freqTicksAB, yTicks: powTicks, yTitle: 'Source power (lnA₀)', xtPad: 14, ytPad: 15,
  datasets: [line('10', b10, abColors[0], 2.2), line('20', b20, abColors[1], 2.2), line('30', b30, abColors[2], 2.2), line('40', b40, abColors[3], 2.2)],
  deco: {texts: [['(b)', 'l', 11, 26, 30, 'left'], ['SGB Array', 'r', -11, 26, 30, 'right'], ['Compact sedan', 'c', -5, -20, 31, 'center', true]],
    legend: abLegend(34, 303)}
});

panel('pc', [143, 578, 926, 421], {
  x: [8, 150], y: [0, 20], xTicks: freqTicksCDE, yTicks: qTicksC, yTitle: 'Q value', xtPad: 9, ytPad: 35,
  datasets: [line('1.13', c113, RED, 3.5), line('1.12', c112, LBLUE, 3.5), line('1.21', c121, BLUE, 3.5), line('1.20', c120, BLACK, 3.5),
    ...band(c113Band, RED_F), ...band(c112Band, LBLUE_F), ...band(c121Band, BLUE_F), ...band(c120Band, GRAY_C)],
  deco: {texts: [['(c)', 'l', 7, 22, 30, 'left'], ['SGB Array', 'l', 423, 35, 30, 'center']],
    legend: {x: 768, y: 292, w: 153, h: 107, rows: [15, 41, 67, 93], l0: 3, l1: 40, tx: 43, dx: 147, lw: 4, names: cNames, dist: cDist, colors: [RED, LBLUE, BLUE, BLACK]}}
});

panel('pd', [1173, 64, 670, 421], {
  x: [8, 150], y: [0, 50], xTicks: freqTicksCDE, yTicks: qTicksDE, yTitle: 'Q value', xtPad: 13, ytPad: 32,
  datasets: [line('RA37', d37, RED, 4), line('RA36', d36, LBLUE, 4), line('RA35', d35, BLUE, 4), line('RA34', d34, BLACK, 4),
    ...band(d37Band, RED_F), ...band(d36Band, LBLUE_F), ...band(d35Band, BLUE_F), ...band(d34Band, GRAY_DE)],
  deco: {texts: [['(d)', 'l', 8, 28, 30, 'left'], ['RA Array NE', 'l', 120, 28, 30, 'left']],
    legend: {x: 483, y: 295, w: 176, h: 107, rows: [15, 41, 67, 93], l0: 4, l1: 40, tx: 44, dx: 160, lw: 4, names: dNames, dist: dDist, colors: [RED, LBLUE, BLUE, BLACK]}}
});

panel('pe', [1173, 579, 670, 420], {
  x: [8, 150], y: [0, 50], xTicks: freqTicksCDE, yTicks: qTicksDE, yTitle: 'Q value', xtPad: 9, ytPad: 34,
  datasets: [line('RA33', e33, BLACK, 4), line('RA32', e32, BLUE, 4), line('RA31', e31, LBLUE, 4), line('RA30', e30, RED, 4),
    ...band(e33Band, GRAY_DE), ...band(e32Band, BLUE_F), ...band(e31Band, LBLUE_F), ...band(e30Band, RED_F)],
  deco: {texts: [['(e)', 'l', 8, 33, 30, 'left'], ['RA Array SW', 'l', 118, 33, 30, 'left']],
    legend: {x: 483, y: 298, w: 176, h: 106, rows: [15, 40, 66, 92], l0: 4, l1: 40, tx: 44, dx: 160, lw: 4, names: eNames, dist: eDist, colors: [BLACK, BLUE, LBLUE, RED]}}
});
</script>
</body>
</html>
